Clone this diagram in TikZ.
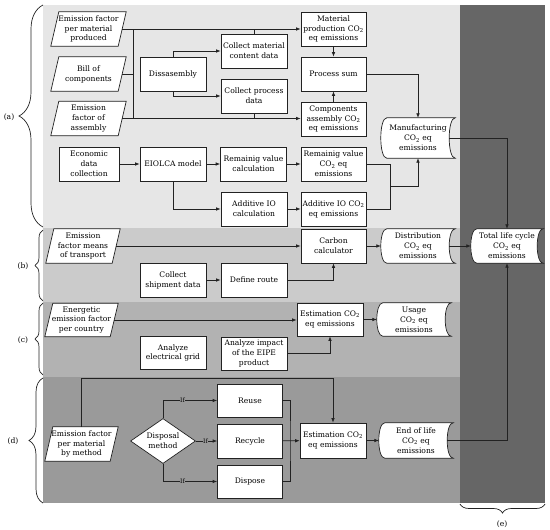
\documentclass[tikz,border=0pt]{standalone}
\usepackage{fontspec}
\setmainfont{DejaVu Serif}
\usetikzlibrary{arrows.meta,shapes.geometric,decorations.pathreplacing}
\pgfdeclarelayer{bg}
\pgfdeclarelayer{mid}
\pgfsetlayers{bg,mid,main}
\definecolor{rega}{HTML}{E6E6E6}
\definecolor{regb}{HTML}{CBCBCB}
\definecolor{regc}{HTML}{B2B2B2}
\definecolor{regd}{HTML}{9A9A9A}
\definecolor{rege}{HTML}{666666}
\definecolor{linec}{HTML}{222222}
\tikzset{
  base/.style={font=\fontsize{7.6}{9.9}\selectfont, align=center, inner sep=0.3pt, text=black},
  box/.style={base, draw=linec, fill=white, line width=0.7pt, minimum width=66pt, minimum height=34pt},
  ptext/.style={base, minimum width=67pt, minimum height=34pt},
  stext/.style={base, minimum width=74pt, minimum height=34pt},
  conn/.style={draw=linec, line width=0.7pt},
  arr/.style={conn, -{Latex[length=4.5pt,width=3.6pt]}},
  brc/.style={decorate, draw=linec, line width=0.7pt},
  iflab/.style={fill=regd, inner sep=0.6pt, font=\fontsize{6}{6}\selectfont},
  shp/.style={draw=linec, fill=white, line width=0.7pt},
}
\newcommand\stordraw[1]{%
  \path[shp] ([xshift=6pt]#1.north west) -- (#1.north east)
    .. controls ([xshift=-8pt]#1.north east) and ([xshift=-8pt]#1.south east) .. (#1.south east)
    -- ([xshift=6pt]#1.south west)
    .. controls ([xshift=-2pt]#1.south west) and ([xshift=-2pt]#1.north west) .. cycle;}
\newcommand\paradraw[1]{%
  \path[shp] ([xshift=4pt]#1.north west) -- ([xshift=4pt]#1.north east)
    -- ([xshift=-4pt]#1.south east) -- ([xshift=-4pt]#1.south west) -- cycle;}
\newcommand\cotwo{CO\textsubscript{2}}
\begin{document}
\begin{tikzpicture}[x=1pt,y=-1pt]
\useasboundingbox (0,0) rectangle (550,530);
\begin{pgfonlayer}{bg}
\fill[rega] (43,5) rectangle (460,228);
\fill[regb] (43,228) rectangle (460,302);
\fill[regc] (43,302) rectangle (460,377);
\fill[regd] (43,377) rectangle (460,503);
\fill[rege] (460,5) rectangle (545,503);
\end{pgfonlayer}

% ---------- (a) ----------
\node[ptext] (efm) at (88.5,29) {Emission factor\\per material\\produced};
\node[ptext] (bill) at (88.5,74) {Bill of\\components};
\node[ptext] (efa) at (88.5,118.5) {Emission\\factor of\\assembly};
\node[box] (dis) at (173,74.5) {Dissasembly};
\node[box] (cmc) at (254,51) {Collect material\\content data};
\node[box] (cpd) at (254,96) {Collect process\\data};
\node[box, minimum width=65pt] (mp) at (333.5,29) {Material\\production \cotwo\\eq emissions};
\node[box, minimum width=65pt] (ps) at (333.5,74) {Process sum};
\node[box, minimum width=65pt] (ca) at (333.5,119) {Components\\assembly \cotwo\\eq emissions};
\node[stext, minimum height=40pt] (man) at (418,138) {Manufacturing\\\cotwo{} eq\\emissions};
\node[box, minimum width=60pt] (eco) at (89,164) {Economic\\data\\collection};
\node[box] (eio) at (173,164) {EIOLCA model};
\node[box] (rvc) at (253.5,164) {Remainig value\\calculation};
\node[box, minimum width=65pt] (rve) at (333.5,164) {Remainig value\\\cotwo{} eq\\emissions};
\node[box] (aio) at (254,209) {Additive IO\\calculation};
\node[box, minimum width=65pt] (aie) at (333.5,209) {Additive IO \cotwo\\eq emissions};
\node[stext, minimum width=72pt] (tot) at (507,246) {Total life cycle\\\cotwo{} eq\\emissions};

\coordinate (bt) at (133,29);
\coordinate (bb) at (133,118.5);
\coordinate (j1) at (390,186.5);

\draw[arr] (efm.east) -- (efm.east -| mp.west);
\draw[arr] (efa.east) -- (efa.east -| ca.west);
\draw[conn] (bt) -- (bb);
\draw[conn] (bill.east) -- (bill.east -| bt);
\draw[conn] (cmc.north) -- (cmc.north |- efm.east);
\draw[conn] (cpd.south) -- (cpd.south |- efa.east);
\draw[arr] (dis.north) |- (cmc.west);
\draw[arr] (dis.south) |- (cpd.west);
\draw[arr] (mp) -- (ps);
\draw[arr] (ca) -- (ps);
\draw[arr] (ps.east) -| (man.north);
\draw[arr] (eco) -- (eio);
\draw[arr] (eio) -- (rvc);
\draw[arr] (rvc) -- (rve);
\draw[arr] (eio.south) |- (aio.west);
\draw[arr] (aio) -- (aie);
\draw[conn] (rve.east) -- (rve.east -| j1) -- (aie.east -| j1) -- (aie.east);
\draw[arr] (j1) -| (man.south);
\draw[arr] ([xshift=-6pt]man.east) -| (tot.north);

% ---------- (b) ----------
\node[ptext, minimum width=66pt] (eft) at (83,246) {Emission\\factor means\\of transport};
\node[box, minimum width=65pt] (cc) at (333.5,246) {Carbon\\calculator};
\node[stext] (dist) at (418,246) {Distribution\\\cotwo{} eq\\emissions};
\node[box] (csd) at (173,280) {Collect\\shipment data};
\node[box] (dr) at (254,280) {Define route};
\draw[arr] (eft.east) -- (eft.east -| cc.west);
\draw[arr] (cc) -- (dist);
\draw[arr] ([xshift=-6pt]dist.east) -- (tot.west);
\draw[arr] (csd) -- (dr);
\draw[arr] (dr.east) -| (cc.south);

% ---------- (c) ----------
\node[ptext, minimum width=65pt, minimum height=33pt] (eec) at (81.5,320) {Energetic\\emission factor\\per country};
\node[box, minimum height=33pt] (estc) at (330,319.5) {Estimation \cotwo\\eq emissions};
\node[stext, minimum height=33pt] (usage) at (414,319.5) {Usage\\\cotwo{} eq\\emissions};
\node[box, minimum height=33pt] (aeg) at (173,353) {Analyze\\electrical grid};
\node[box, minimum height=33pt] (aip) at (254,353.5) {Analyze impact\\of the EIPE\\product};
\draw[arr] (eec.east) -- (eec.east -| estc.west);
\draw[arr] (estc) -- (usage);
\draw[arr] (aip.east) -| (estc.south);

% ---------- (d) ----------
\node[ptext, minimum width=65pt] (efd) at (81.5,444) {Emission factor\\per material\\by method};
\node[base, diamond, draw=linec, fill=white, line width=0.7pt, aspect=1.44, inner sep=0pt, minimum width=65pt, minimum height=45pt] (dm) at (163,441) {Disposal\\method};
\node[box, minimum width=65pt, minimum height=33pt] (reuse) at (250,400.5) {Reuse};
\node[box, minimum width=65pt] (recycle) at (250,441) {Recycle};
\node[box, minimum width=65pt, minimum height=33pt] (dispose) at (250,481.5) {Dispose};
\node[box, minimum height=35pt] (estd) at (333,440.5) {Estimation \cotwo\\eq emissions};
\node[stext, minimum height=35pt] (eol) at (416,440.5) {End of life\\\cotwo{} eq\\emissions};

\coordinate (t1) at (0,378);
\coordinate (j2) at (290,441);
\draw[arr] (efd.north) -- (efd.north |- t1) -| (estd.north);
\draw[arr] (dm.north) |- node[iflab, pos=0.68] {If} (reuse.west);
\draw[arr] (dm.east) -- node[iflab, pos=0.45] {If} (recycle.west);
\draw[arr] (dm.south) |- node[iflab, pos=0.68] {If} (dispose.west);
\draw[conn] (reuse.east) -| (j2) |- (dispose.east);
\draw[arr] (recycle) -- (estd);
\draw[arr] (estd) -- (eol);
\draw[arr] ([xshift=-6pt]eol.east) -| (tot.south);

% ---------- shapes behind text ----------
\begin{pgfonlayer}{mid}
\paradraw{efm}\paradraw{bill}\paradraw{efa}\paradraw{eft}\paradraw{eec}\paradraw{efd}
\stordraw{man}\stordraw{tot}\stordraw{dist}\stordraw{usage}\stordraw{eol}
\end{pgfonlayer}

% ---------- braces ----------
\draw[brc, decoration={brace, amplitude=24pt}] (43,227) -- (43,5);
\draw[brc, decoration={brace, amplitude=8pt}] (43,301) -- (43,230);
\draw[brc, decoration={brace, amplitude=8pt}] (43,375) -- (43,303);
\draw[brc, decoration={brace, amplitude=14pt}] (43,503) -- (43,378);
\draw[brc, decoration={brace, amplitude=9pt}] (545,504) -- (460,504);
\node[base] (la) at (9,117) {(a)};
\node[base] (lb) at (23,266) {(b)};
\node[base] (lc) at (23,340) {(c)};
\node[base] (ld) at (13,441) {(d)};
\node[base] (le) at (502,524) {(e)};
\end{tikzpicture}
\end{document}
